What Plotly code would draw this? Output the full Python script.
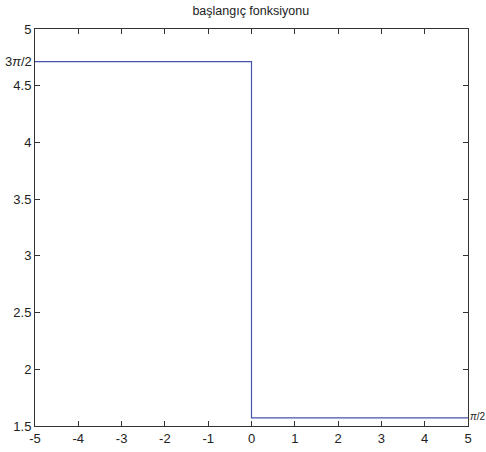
import math
import plotly.graph_objects as go

x_vals = [-5, 0, 0, 5]
y_vals = [3 * math.pi / 2, 3 * math.pi / 2, math.pi / 2, math.pi / 2]
x_ticks = [-5, -4, -3, -2, -1, 0, 1, 2, 3, 4, 5]
x_tick_labels = ["-5", "-4", "-3", "-2", "-1", "0", "1", "2", "3", "4", "5"]
y_ticks = [1.5, 2, 2.5, 3, 3.5, 4, 4.5, 5]
y_tick_labels = ["1.5", "2", "2.5", "3", "3.5", "4", "4.5", "5"]
title_text = "başlangıç fonksiyonu"

fig = go.Figure()
fig.add_trace(go.Scatter(x=x_vals, y=y_vals, mode="lines",
                         line=dict(color="#4553a8", width=1.2), showlegend=False))

font = dict(family="Liberation Sans, Arial, sans-serif", size=13, color="#222222")

fig.add_annotation(x=-5, y=3 * math.pi / 2, xref="x", yref="y",
                   text="3<i>π</i>/2", showarrow=False, xanchor="right",
                   xshift=-1, font=font)
fig.add_annotation(x=5, y=math.pi / 2, xref="x", yref="y",
                   text="<i>π</i>/2", showarrow=False, xanchor="left",
                   xshift=1, yshift=1, borderpad=0,
                   font=dict(family="Liberation Sans, Arial, sans-serif",
                             size=10, color="#222222"))

axis_common = dict(showgrid=False, zeroline=False, showline=True, linecolor="#333333",
                   linewidth=1, mirror="ticks", ticks="inside", ticklen=5,
                   tickcolor="#333333", tickfont=font)

fig.update_xaxes(range=[-5, 5], tickvals=x_ticks, ticktext=x_tick_labels, **axis_common)
fig.update_yaxes(range=[1.5, 5], tickvals=y_ticks, ticktext=y_tick_labels, **axis_common)

fig.update_layout(
    width=486, height=452,
    margin=dict(l=35, r=18, t=29, b=26, autoexpand=False),
    paper_bgcolor="white", plot_bgcolor="white",
    title=dict(text=title_text, x=0.516, xanchor="center", y=1 - 11 / 452, yanchor="middle",
               font=dict(family="Liberation Sans, Arial, sans-serif", size=12.5, color="#222222")),
)

fig.write_html("out.html", config={"displayModeBar": False},
               post_script="document.body.style.margin='0';")
